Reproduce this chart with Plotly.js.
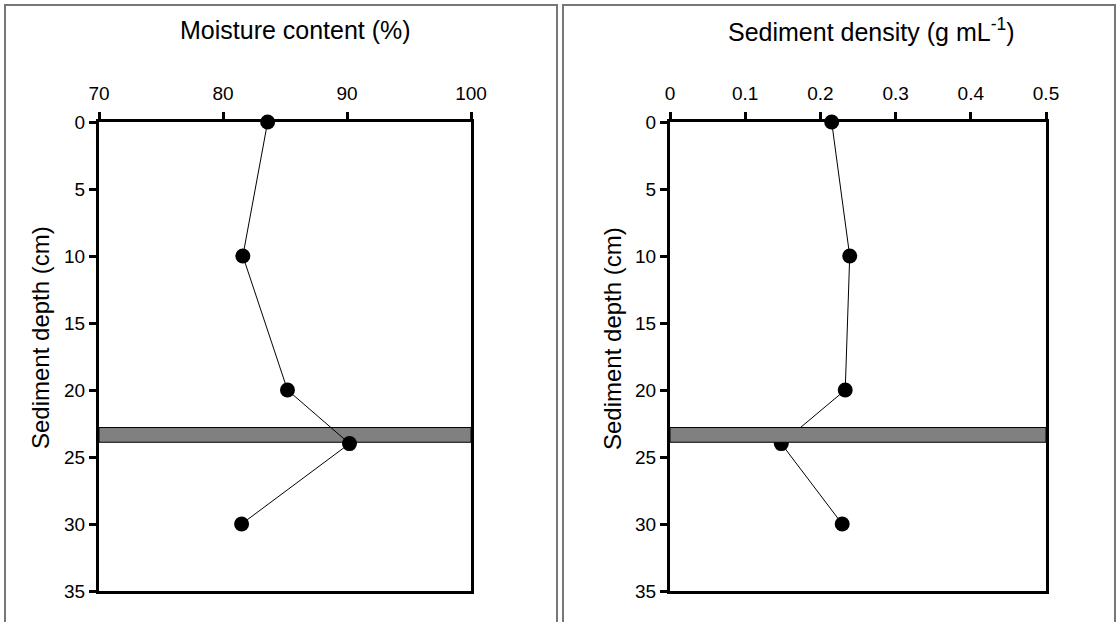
<!DOCTYPE html>
<html>
<head>
<meta charset="utf-8">
<script src="https://cdn.plot.ly/plotly-3.0.1.min.js"></script>
<style>html,body{margin:0;padding:0;background:#fff;}#chart{width:1120px;height:622px;}</style>
</head>
<body>
<div id="chart"></div>
<script>
// Data
const depth = [0, 10, 20, 24, 30];
const moisture = [83.6, 81.6, 85.2, 90.2, 81.5];
const density = [0.215, 0.239, 0.233, 0.148, 0.229];
const bandDepth = [22.8, 23.9];
const moistureTicks = [70, 80, 90, 100];
const densityTicks = [0, 0.1, 0.2, 0.3, 0.4, 0.5];
const depthTicks = [0, 5, 10, 15, 20, 25, 30, 35];

const W = 1120, H = 622;
const px = v => v / W;
const py = v => 1 - v / H;
const FONT = 'Liberation Sans, Arial, sans-serif';

const lineStyle = {color: 'black', width: 1};
const markerStyle = {color: 'black', size: 15};

const traces = [
  {x: moisture, y: depth, xaxis: 'x', yaxis: 'y', type: 'scatter', mode: 'lines+markers',
   line: lineStyle, marker: markerStyle, cliponaxis: false, showlegend: false, name: 'Moisture content'},
  {x: density, y: depth, xaxis: 'x2', yaxis: 'y2', type: 'scatter', mode: 'lines+markers',
   line: lineStyle, marker: markerStyle, cliponaxis: false, showlegend: false, name: 'Sediment density'}
];

const xCommon = {
  side: 'top', ticks: 'outside', ticklen: 7, tickwidth: 3, tickcolor: 'black',
  showline: true, linewidth: 3, linecolor: 'black', mirror: true,
  showgrid: false, zeroline: false, fixedrange: true, ticklabelstandoff: 4,
  tickfont: {family: FONT, size: 19, color: 'black'}
};
const yCommon = {
  autorange: false, range: [35, 0], tickvals: depthTicks, ticks: 'outside', ticklen: 7, tickwidth: 3, tickcolor: 'black',
  showline: true, linewidth: 3, linecolor: 'black', mirror: true,
  showgrid: false, zeroline: false, fixedrange: true,
  domain: [py(591), py(122)],
  tickfont: {family: FONT, size: 19, color: 'black'}
};

const layout = {
  width: W, height: H,
  margin: {l: 0, r: 0, t: 0, b: 0},
  paper_bgcolor: 'white', plot_bgcolor: 'white',
  font: {family: FONT, color: 'black'},
  showlegend: false,
  xaxis: Object.assign({}, xCommon, {domain: [px(99), px(471)], range: [70, 100], tickvals: moistureTicks, anchor: 'y'}),
  yaxis: Object.assign({}, yCommon, {anchor: 'x'}),
  xaxis2: Object.assign({}, xCommon, {domain: [px(670), px(1046)], range: [0, 0.5], tickvals: densityTicks, ticktext: densityTicks.map(String), anchor: 'y2'}),
  yaxis2: Object.assign({}, yCommon, {anchor: 'x2'}),
  shapes: [
    {type: 'rect', xref: 'paper', yref: 'paper', x0: px(5), x1: px(557), y0: -0.2, y1: py(5),
     line: {color: '#777777', width: 2}, fillcolor: 'rgba(0,0,0,0)', layer: 'below'},
    {type: 'rect', xref: 'paper', yref: 'paper', x0: px(563), x1: px(1115), y0: -0.2, y1: py(5),
     line: {color: '#777777', width: 2}, fillcolor: 'rgba(0,0,0,0)', layer: 'below'},
    {type: 'rect', xref: 'x', yref: 'y', x0: 70, x1: 100, y0: bandDepth[0], y1: bandDepth[1],
     fillcolor: '#808080', line: {color: 'black', width: 1}, layer: 'below'},
    {type: 'rect', xref: 'x2', yref: 'y2', x0: 0, x1: 0.5, y0: bandDepth[0], y1: bandDepth[1],
     fillcolor: '#808080', line: {color: 'black', width: 1}, layer: 'above'}
  ],
  annotations: [
    {text: 'Moisture content (%)', xref: 'paper', yref: 'paper', x: px(295), y: py(30),
     showarrow: false, font: {family: FONT, size: 25, color: 'black'}, xanchor: 'center', yanchor: 'middle'},
    {text: 'Sediment density (g mL<sup>-1</sup>)', xref: 'paper', yref: 'paper', x: px(871), y: py(30),
     showarrow: false, font: {family: FONT, size: 25, color: 'black'}, xanchor: 'center', yanchor: 'middle'},
    {text: 'Sediment depth (cm)', xref: 'paper', yref: 'paper', x: px(40), y: py(338), textangle: -90,
     showarrow: false, font: {family: FONT, size: 24, color: 'black'}, xanchor: 'center', yanchor: 'middle'},
    {text: 'Sediment depth (cm)', xref: 'paper', yref: 'paper', x: px(612), y: py(338), textangle: -90,
     showarrow: false, font: {family: FONT, size: 24, color: 'black'}, xanchor: 'center', yanchor: 'middle'}
  ]
};

Plotly.newPlot('chart', traces, layout, {staticPlot: true, displayModeBar: false});
</script>
</body>
</html>
